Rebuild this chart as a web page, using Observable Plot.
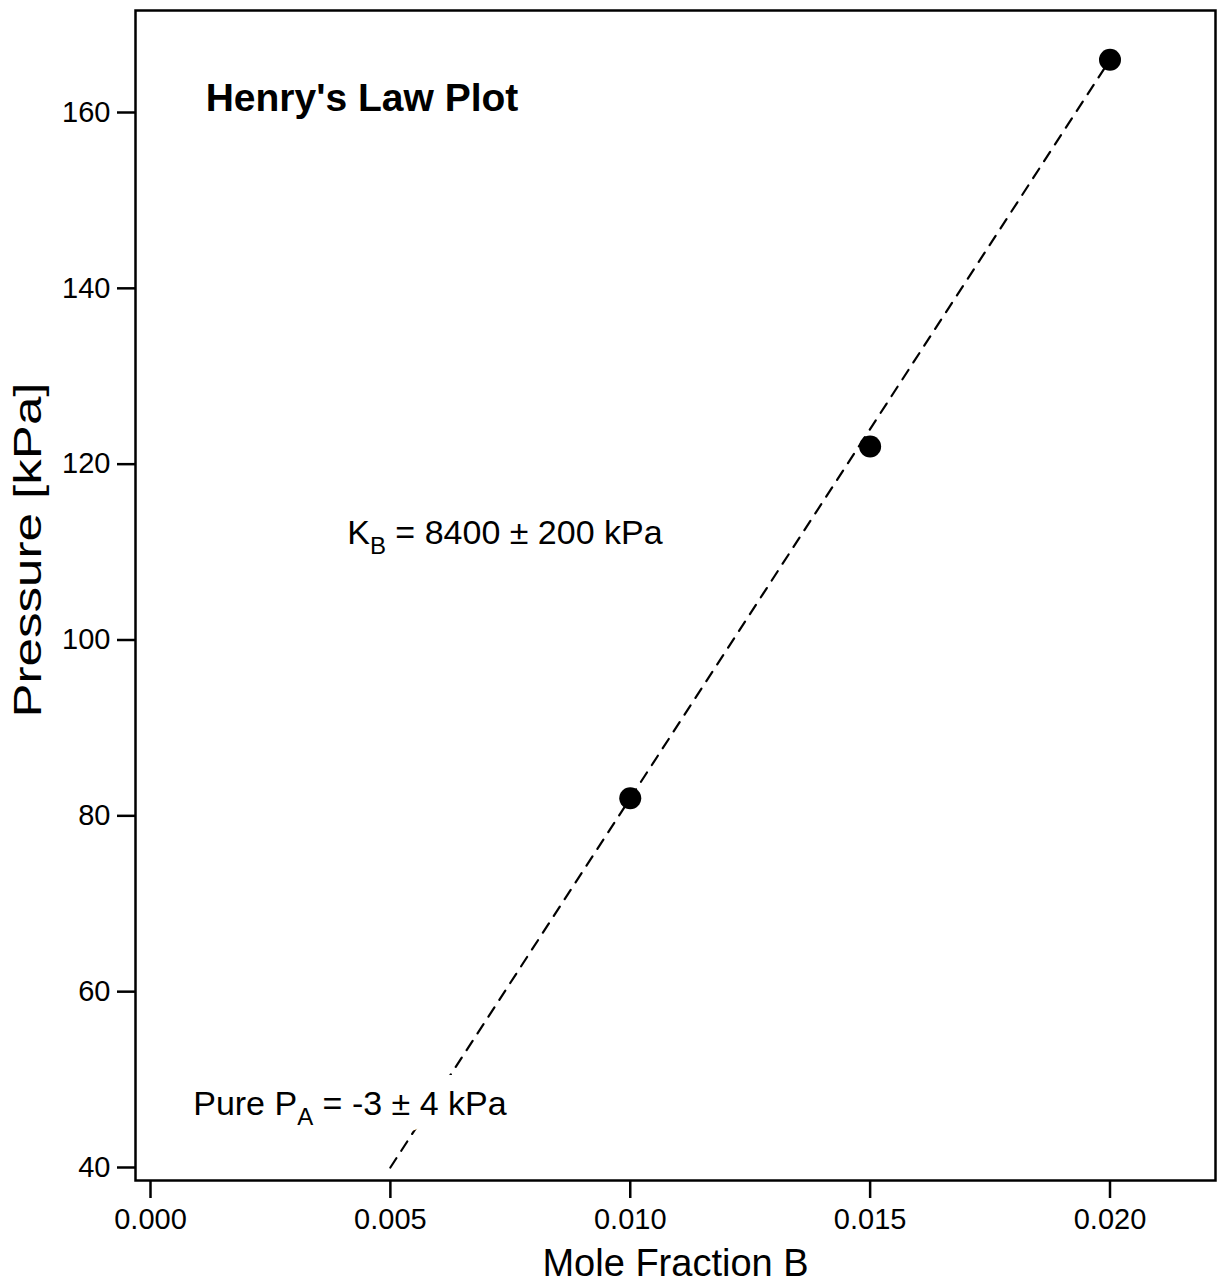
<!DOCTYPE html>
<html><head><meta charset="utf-8">
<script src="https://cdn.jsdelivr.net/npm/d3@7"></script>
<script src="https://cdn.jsdelivr.net/npm/@observablehq/plot@0.6"></script>
<style>body{margin:0;background:#fff} svg{display:block}</style>
</head><body><div id="chart"></div>
<script>
// ---- data ----
const moleFraction = [0.010, 0.015, 0.020];
const pressure = [82, 122, 166];
const fitX = [0.005, 0.020];
const fitY = [40, 166];
const xTicks = [0, 0.005, 0.010, 0.015, 0.020];
const yTicks = [40, 60, 80, 100, 120, 140, 160];
const title = "Henry's Law Plot";
const xLabel = "Mole Fraction B";
const yLabel = "Pressure [kPa]";
const annX = [0.00410, 0.00089];
const annY = [112.2, 47.2];
const annMain = ["K", "Pure P"];
const annSub = ["B", "A"];
const annRest = [" = 8400 ± 200 kPa", " = -3 ± 4 kPa"];

const font = "'Liberation Sans', Arial, Helvetica, sans-serif";
const points = moleFraction.map((x, i) => ({x, y: pressure[i]}));
const fit = fitX.map((x, i) => ({x, y: fitY[i]}));
const ann = annX.map((x, i) => ({x, y: annY[i], text: annMain[i] + annSub[i] + annRest[i]}));

const plot = Plot.plot({
  width: 1217, height: 1285,
  marginLeft: 135, marginRight: 2, marginTop: 10, marginBottom: 105,
  style: {fontFamily: font, color: "black", background: "white"},
  x: {domain: [-0.0003127, 0.022199]},
  y: {domain: [38.521, 171.602]},
  marks: [
    Plot.line(fit, {x: "x", y: "y", stroke: "black", strokeWidth: 2.2, strokeDasharray: "11,9"}),
    Plot.text(ann, {x: "x", y: "y", text: "text", textAnchor: "start", fontSize: 34, fill: "white",
      stroke: "white", strokeWidth: 32, className: "ann"}),
    Plot.text(ann, {x: "x", y: "y", text: "text", textAnchor: "start", fontSize: 34, fill: "black",
      className: "ann"}),
    Plot.dot(points, {x: "x", y: "y", r: 11, fill: "black", stroke: null}),
    Plot.text([title], {x: () => 0.00115, y: () => 161.6, text: d => d, textAnchor: "start",
      fontSize: 39, fontWeight: "bold", fill: "black"}),
    Plot.frame({stroke: "black", strokeWidth: 2.5}),
    Plot.axisX({ticks: xTicks, tickFormat: d3.format(".3f"), tickSize: 18, tickPadding: 10,
      strokeWidth: 2.5, fontSize: 29, label: null}),
    Plot.axisY({ticks: yTicks, tickSize: 18, tickPadding: 7, strokeWidth: 2.5, fontSize: 29, label: null}),
    Plot.text([xLabel], {frameAnchor: "bottom", dy: 95, text: d => d, fontSize: 38, fill: "black"}),
    Plot.text([yLabel], {frameAnchor: "left", dx: -107, dy: 122, rotate: -90, text: d => d,
      textAnchor: "start", fontSize: 38, fill: "black", className: "ylab"})
  ]
});
document.getElementById("chart").appendChild(plot);

// subscripts in annotations
d3.select(plot).selectAll("g.ann").each(function() {
  d3.select(this).selectAll("text").each(function(d, i) {
    const t = d3.select(this);
    t.text(null);
    t.append("tspan").text(annMain[i]);
    t.append("tspan").attr("dy", 10).attr("font-size", 24).text(annSub[i]);
    t.append("tspan").attr("dy", -10).text(annRest[i]);
  });
});
// stretched y label as in reference
d3.select(plot).selectAll("g.ylab text").attr("textLength", 335).attr("lengthAdjust", "spacingAndGlyphs");
</script>
</body></html>
